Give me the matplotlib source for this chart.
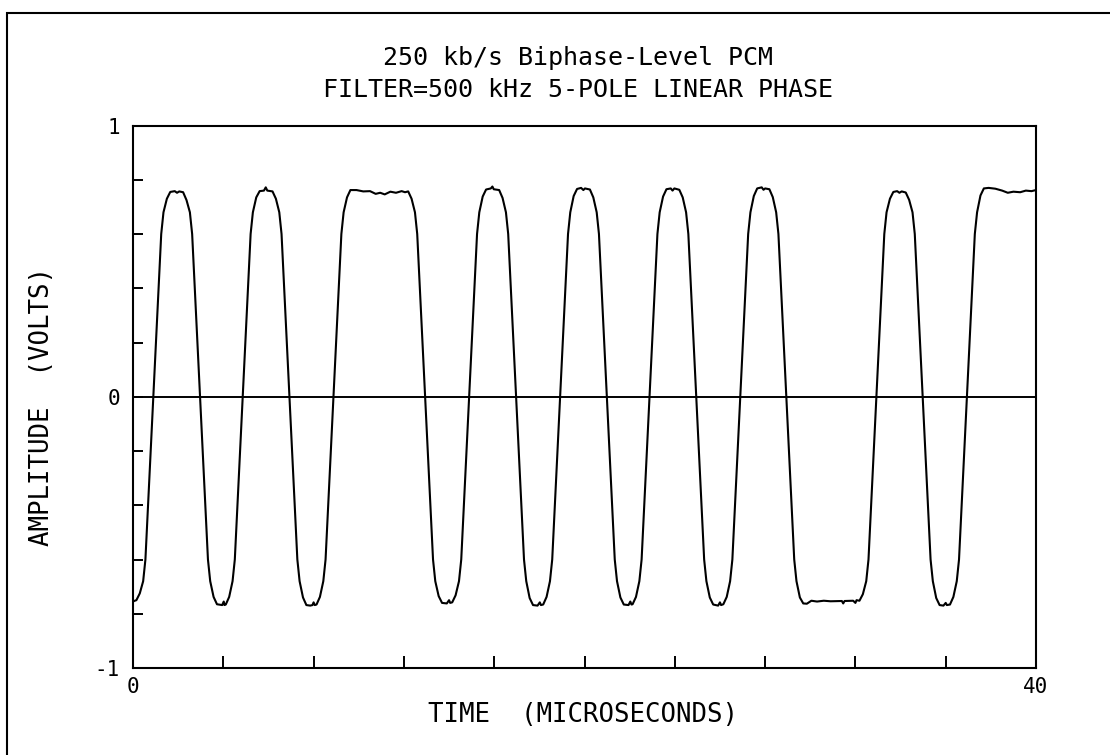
import matplotlib
matplotlib.use("Agg")
import matplotlib.pyplot as plt
from matplotlib.patches import Rectangle

# ---------------- data ----------------
title_line1 = "250 kb/s Biphase-Level PCM"
title_line2 = "FILTER=500 kHz 5-POLE LINEAR PHASE"
x_label = "TIME  (MICROSECONDS)"
y_label = "AMPLITUDE  (VOLTS)"

x_ticks = [0, 4, 8, 12, 16, 20, 24, 28, 32, 36, 40]
x_tick_labels = ["0", "", "", "", "", "", "", "", "", "", "40"]
y_ticks = [-1.0, -0.8, -0.6, -0.4, -0.2, 0.0, 0.2, 0.4, 0.6, 0.8, 1.0]
y_tick_labels = ["-1", "", "", "", "", "0", "", "", "", "", "1"]

time_us = [
    0.00, 0.08,
    0.15, 0.30, 0.45, 0.55, 0.90, 1.25, 1.35, 1.50, 1.65,
    1.85, 1.95, 2.05,
    2.22, 2.37, 2.52, 2.62, 2.97, 3.32, 3.42, 3.57, 3.72,
    3.95, 4.02, 4.05,
    4.11, 4.26, 4.41, 4.51, 4.86, 5.21, 5.31, 5.46, 5.61,
    5.80, 5.88, 5.95,
    6.18, 6.33, 6.48, 6.58, 6.93, 7.28, 7.38, 7.53, 7.68,
    7.85, 7.95, 8.00, 8.05,
    8.13, 8.28, 8.43, 8.53, 8.88, 9.23, 9.33, 9.48, 9.63,
    9.90, 10.20, 10.50, 10.75, 10.95, 11.15, 11.40, 11.65, 11.90, 12.05,
    12.19, 12.34, 12.49, 12.59, 12.94, 13.29, 13.39, 13.54, 13.69,
    13.90, 14.00, 14.05,
    14.14, 14.29, 14.44, 14.54, 14.89, 15.24, 15.34, 15.49, 15.64,
    15.85, 15.92, 15.98,
    16.22, 16.37, 16.52, 16.62, 16.97, 17.32, 17.42, 17.57, 17.72,
    17.92, 18.02, 18.07,
    18.17, 18.32, 18.47, 18.57, 18.92, 19.27, 19.37, 19.52, 19.67,
    19.85, 19.95, 20.02,
    20.24, 20.39, 20.54, 20.64, 20.99, 21.34, 21.44, 21.59, 21.74,
    21.95, 22.03, 22.08,
    22.13, 22.28, 22.43, 22.53, 22.88, 23.23, 23.33, 23.48, 23.63,
    23.82, 23.90, 23.98,
    24.20, 24.35, 24.50, 24.60, 24.95, 25.30, 25.40, 25.55, 25.70,
    25.92, 26.00, 26.05,
    26.15, 26.30, 26.45, 26.55, 26.90, 27.25, 27.35, 27.50, 27.65,
    27.85, 27.93, 28.00,
    28.19, 28.34, 28.49, 28.59, 28.94, 29.29, 29.39, 29.54, 29.69,
    29.85, 30.05, 30.30, 30.60, 30.90, 31.40, 31.46, 31.52, 31.90, 32.00, 32.05,
    32.18, 32.33, 32.48, 32.58, 32.93, 33.28, 33.38, 33.53, 33.68,
    33.85, 33.95, 34.05,
    34.23, 34.38, 34.53, 34.63, 34.98, 35.33, 35.43, 35.58, 35.73,
    35.90, 36.00, 36.05,
    36.19, 36.34, 36.49, 36.59, 36.94, 37.29, 37.39, 37.54, 37.69,
    37.90, 38.20, 38.50, 38.75, 39.00, 39.30, 39.55, 39.80, 40.00,
]

amplitude_v = [
    -0.755, -0.752,
    -0.750, -0.725, -0.68, -0.60, 0.0, 0.60, 0.68, 0.730, 0.755,
    0.758, 0.752, 0.757,
    0.754, 0.725, 0.68, 0.60, 0.0, -0.60, -0.68, -0.738, -0.765,
    -0.768, -0.755, -0.768,
    -0.766, -0.738, -0.68, -0.60, 0.0, 0.60, 0.68, 0.735, 0.758,
    0.760, 0.772, 0.760,
    0.757, 0.730, 0.68, 0.60, 0.0, -0.60, -0.68, -0.740, -0.768,
    -0.770, -0.768, -0.758, -0.768,
    -0.766, -0.738, -0.68, -0.60, 0.0, 0.60, 0.68, 0.735, 0.762,
    0.762, 0.757, 0.758, 0.748, 0.752, 0.746, 0.756, 0.752, 0.758, 0.754,
    0.757, 0.730, 0.68, 0.60, 0.0, -0.60, -0.68, -0.735, -0.760,
    -0.762, -0.750, -0.760,
    -0.758, -0.732, -0.68, -0.60, 0.0, 0.60, 0.68, 0.738, 0.764,
    0.768, 0.775, 0.765,
    0.762, 0.733, 0.68, 0.60, 0.0, -0.60, -0.68, -0.742, -0.768,
    -0.770, -0.758, -0.768,
    -0.766, -0.738, -0.68, -0.60, 0.0, 0.60, 0.68, 0.740, 0.766,
    0.770, 0.762, 0.768,
    0.764, 0.735, 0.68, 0.60, 0.0, -0.60, -0.68, -0.740, -0.766,
    -0.768, -0.755, -0.766,
    -0.765, -0.738, -0.68, -0.60, 0.0, 0.60, 0.68, 0.738, 0.765,
    0.768, 0.760, 0.768,
    0.763, 0.735, 0.68, 0.60, 0.0, -0.60, -0.68, -0.740, -0.766,
    -0.770, -0.758, -0.768,
    -0.765, -0.738, -0.68, -0.60, 0.0, 0.60, 0.68, 0.740, 0.768,
    0.772, 0.763, 0.768,
    0.765, 0.736, 0.68, 0.60, 0.0, -0.60, -0.68, -0.740, -0.762,
    -0.763, -0.752, -0.755, -0.752, -0.754, -0.753, -0.762, -0.753, -0.752, -0.760, -0.750,
    -0.752, -0.728, -0.68, -0.60, 0.0, 0.60, 0.68, 0.730, 0.755,
    0.758, 0.752, 0.757,
    0.753, 0.726, 0.68, 0.60, 0.0, -0.60, -0.68, -0.742, -0.768,
    -0.770, -0.760, -0.768,
    -0.766, -0.738, -0.68, -0.60, 0.0, 0.60, 0.68, 0.742, 0.768,
    0.770, 0.767, 0.760, 0.752, 0.756, 0.754, 0.760, 0.758, 0.762,
]

# ---------------- figure ----------------
plt.rcParams["font.family"] = ["DejaVu Sans Mono", "DejaVu Sans"]
plt.rcParams["axes.unicode_minus"] = False

W, H = 1110, 755
fig = plt.figure(figsize=(W / 100, H / 100), dpi=100, facecolor="white")

# outer frame (scanned page border: visible at top and left)
fig.add_artist(Rectangle((6.7 / W, -0.1), 1.2, (1 - 12.7 / H) + 0.1,
                         transform=fig.transFigure, fill=False,
                         edgecolor="black", linewidth=1.5, clip_on=False))

left, right, top, bottom = 133, 1036, 125.5, 668
ax = fig.add_axes([left / W, 1 - bottom / H, (right - left) / W, (bottom - top) / H])
ax.set_facecolor("white")

ax.plot(time_us, amplitude_v, color="black", linewidth=1.5,
        solid_joinstyle="round")
ax.axhline(0, color="black", linewidth=1.4)

ax.set_xlim(0, 40)
ax.set_ylim(-1, 1)
for s in ax.spines.values():
    s.set_linewidth(1.5)
    s.set_color("black")

ax.set_xticks(x_ticks, x_tick_labels)
ax.set_yticks(y_ticks, y_tick_labels)
ax.tick_params(axis="x", direction="in", length=8.5, width=1.4,
               pad=6.5, labelsize=15, colors="black")
ax.tick_params(axis="y", direction="in", length=7.2, width=1.4,
               pad=9.5, labelsize=15, colors="black")

fig.text(578 / W, 1 - 65.5 / H, title_line1, ha="center", va="baseline",
         fontsize=18, color="black")
fig.text(578 / W, 1 - 97.4 / H, title_line2, ha="center", va="baseline",
         fontsize=18, color="black")

ax.set_xlabel(x_label, fontsize=18.5, color="black")
ax.xaxis.set_label_coords(0.498, -0.062)
ax.xaxis.label.set_verticalalignment("top")

ax.set_ylabel(y_label, fontsize=18.5, color="black")
ax.yaxis.label.set_verticalalignment("center")
ax.yaxis.label.set_horizontalalignment("center")
ax.yaxis.set_label_coords((42 - left) / (right - left), (bottom - 406) / (bottom - top))

fig.savefig("out.png", dpi=100, facecolor="white")
